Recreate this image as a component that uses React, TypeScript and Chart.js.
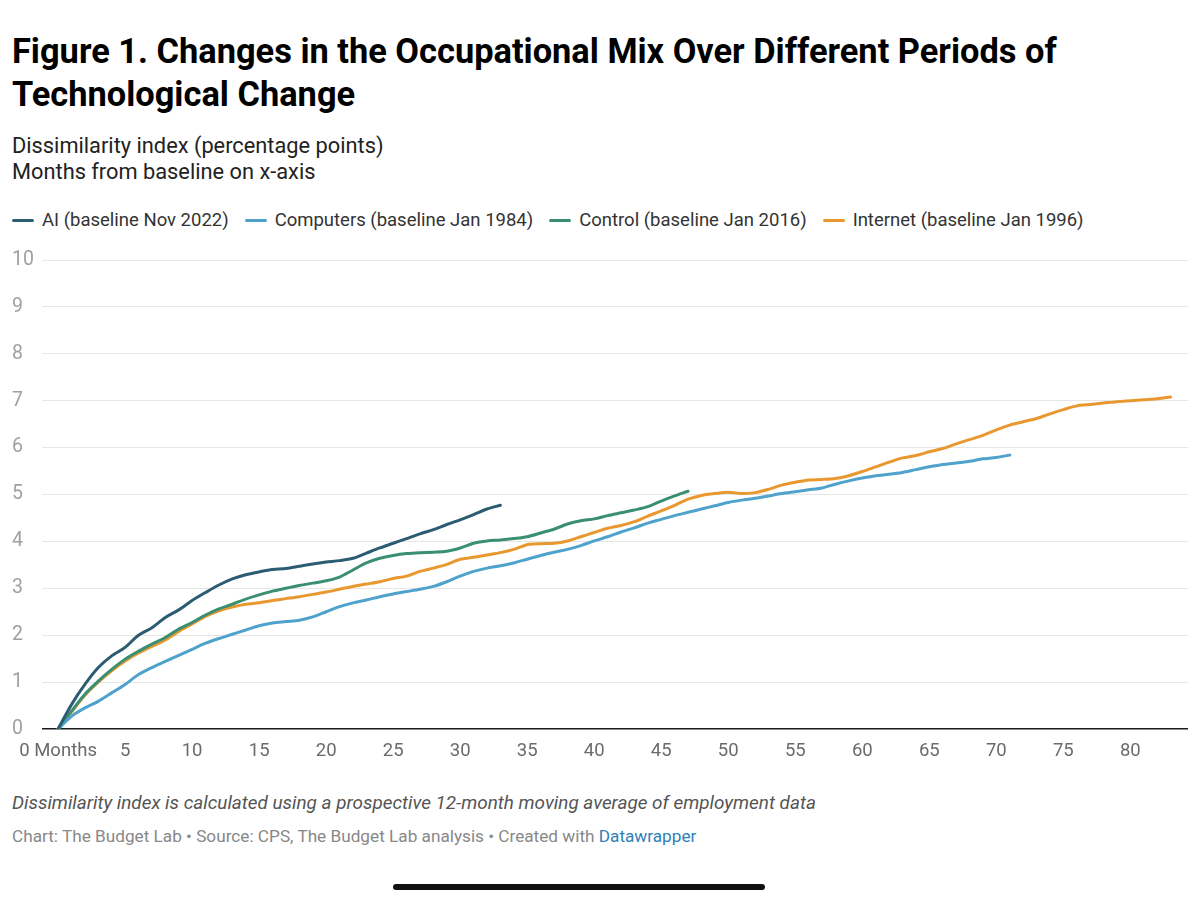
import React, { useEffect, useRef } from 'react';
import Chart from 'chart.js/auto';

// months from baseline -> dissimilarity index (pp)
const aiValues = [0, 0.52, 0.95, 1.31, 1.56, 1.74, 2.0, 2.16, 2.38, 2.54, 2.74, 2.91, 3.07, 3.2, 3.29, 3.35, 3.4, 3.42, 3.47, 3.52, 3.56, 3.59, 3.64, 3.75, 3.86, 3.96, 4.06, 4.16, 4.25, 4.36, 4.46, 4.57, 4.69, 4.77];
const computersValues = [0, 0.27, 0.45, 0.59, 0.77, 0.95, 1.16, 1.31, 1.44, 1.57, 1.7, 1.83, 1.93, 2.02, 2.11, 2.2, 2.26, 2.29, 2.32, 2.39, 2.5, 2.61, 2.69, 2.75, 2.82, 2.88, 2.93, 2.98, 3.04, 3.14, 3.26, 3.36, 3.43, 3.48, 3.54, 3.62, 3.7, 3.77, 3.83, 3.91, 4.01, 4.1, 4.2, 4.29, 4.39, 4.47, 4.55, 4.62, 4.69, 4.76, 4.83, 4.88, 4.92, 4.97, 5.02, 5.06, 5.1, 5.14, 5.22, 5.29, 5.35, 5.4, 5.43, 5.47, 5.53, 5.59, 5.64, 5.67, 5.71, 5.76, 5.79, 5.84];
const controlValues = [0, 0.38, 0.74, 1.02, 1.27, 1.49, 1.66, 1.81, 1.95, 2.13, 2.27, 2.43, 2.56, 2.66, 2.77, 2.86, 2.94, 3.0, 3.06, 3.11, 3.16, 3.24, 3.39, 3.54, 3.64, 3.7, 3.74, 3.76, 3.77, 3.79, 3.86, 3.96, 4.01, 4.03, 4.06, 4.1, 4.18, 4.26, 4.37, 4.44, 4.48, 4.55, 4.61, 4.67, 4.74, 4.86, 4.97, 5.07];
const internetValues = [0, 0.36, 0.72, 1.0, 1.24, 1.45, 1.62, 1.76, 1.9, 2.08, 2.24, 2.4, 2.52, 2.6, 2.66, 2.69, 2.74, 2.78, 2.82, 2.87, 2.92, 2.98, 3.04, 3.09, 3.14, 3.21, 3.26, 3.36, 3.43, 3.51, 3.62, 3.66, 3.71, 3.76, 3.83, 3.93, 3.95, 3.96, 4.01, 4.1, 4.19, 4.28, 4.34, 4.42, 4.54, 4.65, 4.77, 4.9, 4.98, 5.02, 5.05, 5.02, 5.04, 5.11, 5.2, 5.26, 5.31, 5.32, 5.34, 5.4, 5.49, 5.59, 5.69, 5.78, 5.83, 5.91, 5.98, 6.08, 6.17, 6.26, 6.38, 6.48, 6.55, 6.62, 6.72, 6.81, 6.89, 6.92, 6.95, 6.98, 7.0, 7.02, 7.04, 7.08];

const seriesLabels = ['AI (baseline Nov 2022)', 'Computers (baseline Jan 1984)', 'Control (baseline Jan 2016)', 'Internet (baseline Jan 1996)'];
const seriesColors = ['#2b5c72', '#4ea2cb', '#3a8f73', '#e9982f'];
const xTicks = [0, 5, 10, 15, 20, 25, 30, 35, 40, 45, 50, 55, 60, 65, 70, 75, 80];
const yTicks = [0, 1, 2, 3, 4, 5, 6, 7, 8, 9, 10];

const FONT = 'Roboto, "Noto Sans", sans-serif';

const toPoints = (vals: number[]) => vals.map((y, x) => ({ x, y }));

const OccupationalMixChart: React.FC = () => {
  const canvasRef = useRef<HTMLCanvasElement>(null);

  useEffect(() => {
    if (!canvasRef.current) return;
    const all = [aiValues, computersValues, controlValues, internetValues];

    const chart = new Chart(canvasRef.current, {
      type: 'line',
      data: {
        datasets: all.map((vals, i) => ({
          label: seriesLabels[i],
          data: toPoints(vals),
          borderColor: seriesColors[i],
          backgroundColor: seriesColors[i],
          borderWidth: 3,
          pointRadius: 0,
          tension: 0.3,
          borderCapStyle: 'round' as const,
          borderJoinStyle: 'round' as const,
          fill: false,
        })),
      },
      options: {
        animation: false,
        responsive: false,
        maintainAspectRatio: false,
        layout: { padding: { top: 20, right: 4, left: 0, bottom: 0 } },
        plugins: { legend: { display: false }, tooltip: { enabled: false } },
        scales: {
          x: {
            type: 'linear',
            min: -1.2,
            max: 84.3,
            afterBuildTicks: (s: any) => { s.ticks = xTicks.map(v => ({ value: v })); },
            afterFit: (s: any) => { s.height = 36; s.paddingLeft = 0; s.paddingRight = 0; },
            grid: { display: false, drawTicks: false },
            border: { display: false },
            ticks: {
              color: '#6b6b6b',
              font: { family: FONT, size: 18.5 },
              padding: 11,
              maxRotation: 0,
              autoSkip: false,
              callback: (v: any) => (v === 0 ? '0 Months' : String(v)),
            },
          },
          y: {
            min: 0,
            max: 10,
            afterBuildTicks: (s: any) => { s.ticks = yTicks.map(v => ({ value: v })); },
            afterFit: (s: any) => { s.width = 30; s.paddingTop = 0; s.paddingBottom = 0; },
            grid: {
              drawTicks: false,
              color: (c: any) => (c.tick && c.tick.value === 0 ? '#1a1a1a' : '#e6e6e6'),
              lineWidth: (c: any) => (c.tick && c.tick.value === 0 ? 1.6 : 1),
            },
            border: { display: false },
            ticks: {
              color: '#a0a0a0',
              font: { family: FONT, size: 19.5 },
              padding: 0,
              crossAlign: 'far',
            },
          },
        },
      },
    });

    return () => chart.destroy();
  }, []);

  return <canvas ref={canvasRef} width={1180} height={525} style={{ position: 'absolute', left: 4, top: 232, width: 1180, height: 525 }} />;
};

const App: React.FC = () => (
  <div style={{ position: 'relative', width: 1184, height: 884, fontFamily: FONT, color: '#1a1a1a' }}>
    <div style={{ position: 'absolute', left: 4, top: 22, fontSize: 34.4, fontWeight: 700, lineHeight: '43px', color: '#000', width: 1180, whiteSpace: 'nowrap' }}>
      Figure 1. Changes in the Occupational Mix Over Different Periods of<br />Technological Change
    </div>
    <div style={{ position: 'absolute', left: 4, top: 125, fontSize: 21.8, lineHeight: '26px', color: '#222' }}>
      Dissimilarity index (percentage points)<br />Months from baseline on x-axis
    </div>
    <div style={{ position: 'absolute', left: 4, top: 200, height: 24, display: 'flex', alignItems: 'center', fontSize: 18.5, color: '#333', whiteSpace: 'nowrap' }}>
      {seriesLabels.map((l, i) => (
        <div key={l} style={{ display: 'flex', alignItems: 'center', marginRight: 16 }}>
          <span style={{ display: 'inline-block', width: 22, height: 3, borderRadius: 2, background: seriesColors[i], marginRight: 8 }} />
          <span>{l}</span>
        </div>
      ))}
    </div>
    <OccupationalMixChart />
    <div style={{ position: 'absolute', left: 4, top: 783, fontSize: 18.9, lineHeight: '24px', fontStyle: 'italic', color: '#555', whiteSpace: 'nowrap' }}>
      Dissimilarity index is calculated using a prospective 12-month moving average of employment data
    </div>
    <div style={{ position: 'absolute', left: 4, top: 817, fontSize: 17.2, lineHeight: '22px', color: '#888', whiteSpace: 'nowrap' }}>
      Chart: The Budget Lab • Source: CPS, The Budget Lab analysis • Created with <span style={{ color: '#2f7fb6' }}>Datawrapper</span>
    </div>
    <div style={{ position: 'absolute', left: 385, top: 876, width: 372, height: 6, borderRadius: 3, background: '#111' }} />
  </div>
);

export default App;
